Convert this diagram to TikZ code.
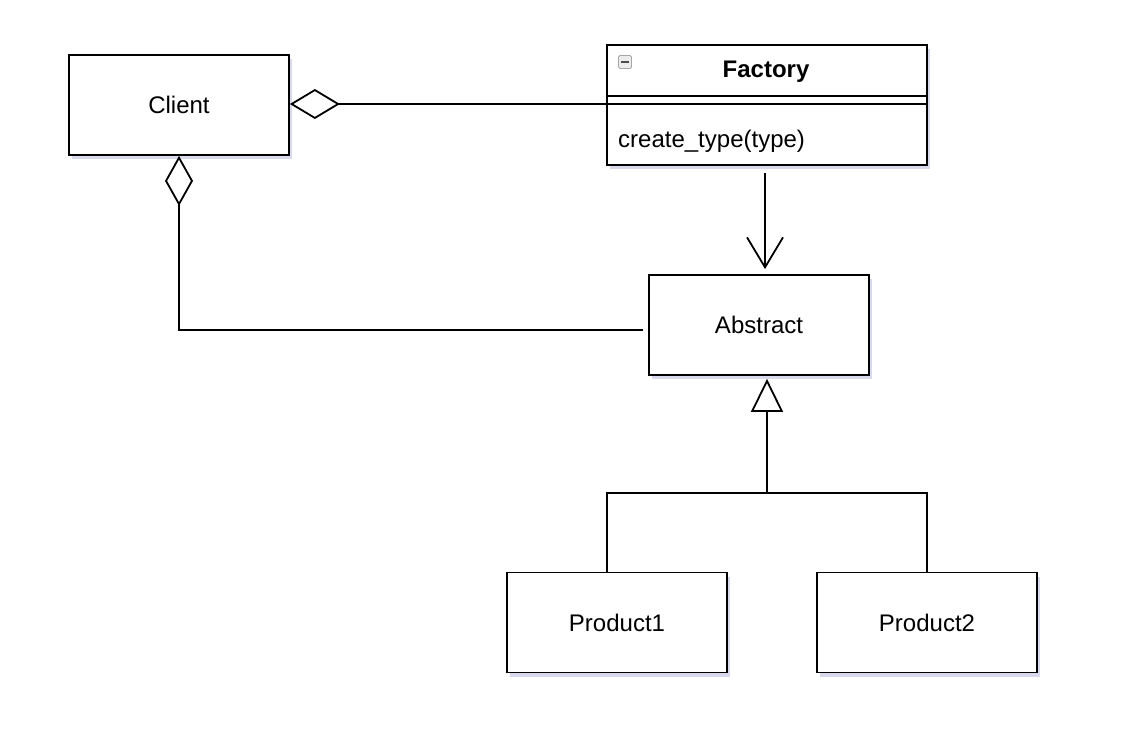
\documentclass[tikz,border=0pt]{standalone}
\usepackage{fontspec}
\setmainfont{Liberation Sans}
\usetikzlibrary{arrows.meta,shadows}
\begin{document}
\begin{tikzpicture}[x=1pt,y=-1pt,
  shade/.style={drop shadow={shadow xshift=3pt,shadow yshift=-4pt,opacity=0.22,fill=blue!35!gray}},
  box/.style={draw,line width=1.8pt,fill=white,minimum width=220pt,minimum height=100pt,inner sep=0pt,
    font=\fontsize{24}{29}\selectfont,shade},
  conn/.style={line width=1.8pt},
  txt/.style={inner sep=0pt,font=\fontsize{24}{29}\selectfont}
]
\useasboundingbox (0,0) rectangle (1134,730);
% nodes
\node[box] (client) at (179,105) {Client};
\node[box,minimum width=320pt,minimum height=120pt] (factory) at (767,105) {};
\node[box] (abstract) at (759,325) {Abstract};
\node[box] (p1) at (617,622.5) {Product1};
\node[box] (p2) at (927,622.5) {Product2};
% factory compartments
\draw[conn] ([yshift=-52pt]factory.north west) coordinate (d1) -- (d1 -| factory.east);
\draw[conn] ([yshift=-60pt]factory.north west) coordinate (d2) -- (d2 -| factory.east);
\node[txt,font=\fontsize{24}{29}\selectfont\bfseries] (ftitle) at (766,72) {Factory};
\node[txt,anchor=west] (fop) at (618,141) {create\_type(type)};
\node[draw=gray!70,fill=gray!15,rounded corners=1.5pt,minimum size=13pt,inner sep=0pt,line width=0.8pt] (ficon) at (625,62) {};
\draw[line width=2.2pt,gray!60!black] ([xshift=-4pt]ficon.center) -- ([xshift=4pt]ficon.center);
% connectors
\draw[conn,{Diamond[open,length=50pt,width=30pt]}-] ([yshift=1pt]client.east) -- ([yshift=1pt]client.east -| factory.west);
\draw[conn,{Diamond[open,length=50pt,width=28pt]}-,shorten >=5pt] (client.south) |- ([yshift=-5pt]abstract.west);
\coordinate (fa) at ([yshift=-7pt]factory.south);
\draw[conn,-{Straight Barb[length=30pt,width=36pt]},shorten >=5pt] ([xshift=-2pt]fa) -- ([xshift=-2pt]fa |- abstract.north);
\coordinate (bus) at (767,493);
\draw[conn,-{Triangle[open,length=33pt,width=32pt]},shorten >=3pt] (bus) -- (bus |- abstract.south);
\draw[conn] ([xshift=-10pt]p1.north) |- (p2.north |- bus) -- (p2.north);
\end{tikzpicture}
\end{document}
